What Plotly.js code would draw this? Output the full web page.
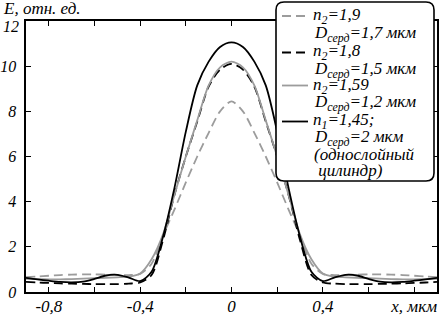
<!DOCTYPE html>
<html><head><meta charset="utf-8">
<script src="https://cdn.plot.ly/plotly-3.0.1.min.js"></script>
<style>html,body{margin:0;padding:0;background:#fff}#chart{width:440px;height:315px}</style>
</head><body><div id="chart"></div>
<script>
// x positions, мкм
const xPos = [-0.9,-0.85,-0.8,-0.75,-0.7,-0.65,-0.6,-0.55,-0.5,-0.45,-0.4,-0.35,-0.3,-0.25,-0.2,-0.15,-0.1,-0.05,0,
  0.05,0.1,0.15,0.2,0.25,0.3,0.35,0.4,0.45,0.5,0.55,0.6,0.65,0.7,0.75,0.8,0.85,0.9];
// n2=1,9 ; D=1,7 мкм (gray dashed)
const eN19 = [0.66,0.69,0.72,0.75,0.77,0.78,0.78,0.77,0.76,0.75,0.8,1.25,2.5,3.65,4.85,6.0,7.05,8.0,8.44,
  8.0,7.05,6.0,4.85,3.65,2.5,1.25,0.8,0.75,0.76,0.77,0.78,0.78,0.77,0.75,0.72,0.69,0.66];
// n2=1,8 ; D=1,5 мкм (black dashed)
const eN18 = [0.45,0.42,0.4,0.38,0.37,0.36,0.35,0.35,0.35,0.37,0.42,0.75,2.3,4.3,6.0,7.55,9.1,9.85,10.1,
  9.85,9.1,7.55,6.0,4.3,2.3,0.75,0.42,0.37,0.35,0.35,0.35,0.36,0.37,0.38,0.4,0.42,0.45];
// n2=1,59 ; D=1,2 мкм (gray solid)
const eN159 = [0.58,0.57,0.56,0.56,0.57,0.59,0.61,0.63,0.65,0.68,0.82,1.45,2.55,4.3,6.0,7.6,9.15,9.95,10.2,
  9.95,9.15,7.6,6.0,4.3,2.55,1.45,0.82,0.68,0.65,0.63,0.61,0.59,0.57,0.56,0.56,0.57,0.58];
// n1=1,45 ; D=2 мкм (single-layer cylinder, black solid)
const eN145 = [0.63,0.56,0.5,0.45,0.43,0.46,0.58,0.73,0.76,0.64,0.48,0.9,2.45,4.6,7.1,9.15,10.2,10.85,11.05,
  10.85,10.2,9.15,7.1,4.6,2.45,0.9,0.48,0.64,0.76,0.73,0.58,0.46,0.43,0.45,0.5,0.56,0.63];

const seriesNames = ["n₂=1,9", "n₂=1,8", "n₂=1,59", "n₁=1,45"];
const xTickVals = [-0.8,-0.6,-0.4,-0.2,0,0.2,0.4,0.6,0.8];
const xTickText = ["-0,8"," ","-0,4"," ","0"," ","0,4"," ","x, мкм"];
const yTickVals = [0,2,4,6,8,10,12];
const yTickText = ["0","2","4","6","8","10","12"];
const legendLines = [
  "n<sub>2</sub>=1,9", "D<sub>серд</sub>=1,7 мкм",
  "n<sub>2</sub>=1,8", "D<sub>серд</sub>=1,5 мкм",
  "n<sub>2</sub>=1,59", "D<sub>серд</sub>=1,2 мкм",
  "n<sub>1</sub>=1,45;", "D<sub>серд</sub>=2 мкм",
  "(однослойный", " цилиндр)"
];
const yTitle = "E, отн. ед.";

// styles
const GRAY = "#9c9c9c";
const styles = [
  {color: GRAY, width: 1.8, dash: "9px,5px"},
  {color: "#000", width: 1.8, dash: "9px,5px"},
  {color: GRAY, width: 1.8, dash: "solid"},
  {color: "#000", width: 1.8, dash: "solid"}
];
const seriesY = [eN19, eN18, eN159, eN145];

const FAMILY = "Liberation Serif";
const FONT = {family: FAMILY, size: 17, color: "#000", style: "italic"};
const TICKFONT = {family: FAMILY, size: 17, color: "#000", style: "italic"};
const YTICKFONT = {family: FAMILY, size: 16, color: "#000", style: "italic"};

// pixel -> paper helpers (plot area 26..437 x 21..292)
const L = 26, R = 3, T = 21, B = 23, W = 440 - L - R, H = 315 - T - B;
const px = v => (v - L) / W;
const py = v => (315 - B - v) / H;

const traces = seriesY.map((ys, i) => ({
  x: xPos, y: ys, type: "scatter", mode: "lines", name: seriesNames[i],
  line: {color: styles[i].color, width: styles[i].width, dash: styles[i].dash, shape: "spline", smoothing: 0.8},
  hoverinfo: "skip", showlegend: false
}));

// legend box with rounded corners
const bx0 = 276, bx1 = 434, by0 = 2, by1 = 181, r = 8;
const rx = r / W, ry = r / H;
const X0 = px(bx0), X1 = px(bx1), Yt = py(by0), Yb = py(by1);
const boxPath = `M ${X0 + rx} ${Yt} L ${X1 - rx} ${Yt} Q ${X1} ${Yt} ${X1} ${Yt - ry} L ${X1} ${Yb + ry} Q ${X1} ${Yb} ${X1 - rx} ${Yb} L ${X0 + rx} ${Yb} Q ${X0} ${Yb} ${X0} ${Yb + ry} L ${X0} ${Yt - ry} Q ${X0} ${Yt} ${X0 + rx} ${Yt} Z`;

const shapes = [{
  type: "path", xref: "paper", yref: "paper", path: boxPath,
  fillcolor: "#fff", line: {color: "#000", width: 1.6}, layer: "above"
}];
const sampleRows = [16, 52.5, 85.5, 121.5];
sampleRows.forEach((row, i) => {
  shapes.push({
    type: "line", xref: "paper", yref: "paper",
    x0: px(282), x1: px(308), y0: py(row), y1: py(row),
    line: {color: styles[i].color, width: styles[i].width, dash: styles[i].dash}, layer: "above"
  });
});

const textRows = [16.5, 33.5, 52.5, 69.5, 86.5, 102.5, 121.5, 138, 154, 170];
const textX = [312, 313, 312, 313, 312, 313, 312, 313, 313, 313];
const annotations = legendLines.map((t, i) => ({
  text: t, xref: "paper", yref: "paper", x: px(textX[i]), y: py(textRows[i]),
  xanchor: "left", yanchor: "middle", showarrow: false, font: FONT, borderpad: 0
}));
annotations.push({
  text: yTitle, xref: "paper", yref: "paper", x: px(2), y: py(9),
  xanchor: "left", yanchor: "middle", showarrow: false, font: FONT, borderpad: 0
});
// top y tick label sits slightly below its tick in the reference
const yTickTextAxis = yTickText.slice(0, -1).concat([" "]);
annotations.push({
  text: yTickText[yTickText.length - 1], xref: "paper", yref: "paper", x: px(20), y: py(26.5),
  xanchor: "right", yanchor: "middle", showarrow: false, font: YTICKFONT, borderpad: 0
});

const axisCommon = {
  showgrid: false, zeroline: false, showline: true, linecolor: "#000", linewidth: 1.6,
  mirror: "ticks", ticks: "inside", ticklen: 5, tickwidth: 1.2, tickcolor: "#000",
  tickmode: "array", fixedrange: true
};

const layout = {
  width: 440, height: 315,
  margin: {l: L, r: R, t: T, b: B, pad: 0},
  paper_bgcolor: "#fff", plot_bgcolor: "#fff",
  showlegend: false,
  xaxis: Object.assign({}, axisCommon, {range: [-0.9, 0.9], tickvals: xTickVals, ticktext: xTickText, tickfont: TICKFONT, ticklabelstandoff: -2}),
  yaxis: Object.assign({}, axisCommon, {range: [0, 12], tickvals: yTickVals, ticktext: yTickTextAxis, tickfont: YTICKFONT, ticklabelstandoff: 5}),
  shapes: shapes,
  annotations: annotations
};

Plotly.newPlot("chart", traces, layout, {displayModeBar: false, staticPlot: true});
</script>
</body></html>
